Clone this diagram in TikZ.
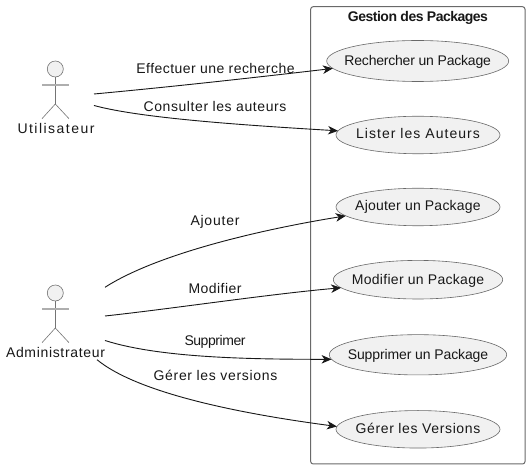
\documentclass[tikz,border=0pt]{standalone}
\usepackage{fontspec}
\setmainfont{Liberation Sans}
\usetikzlibrary{shapes.geometric,arrows.meta}
\definecolor{ink}{HTML}{181818}
\definecolor{soft}{HTML}{F1F1F1}
\newsavebox{\fitbox}
\newcommand{\fittext}[3]{%
  \sbox{\fitbox}{#3}%
  \pgfmathsetmacro{\fitls}{(#1-\wd\fitbox)/(#2)/14*100}%
  {\addfontfeature{LetterSpace=\fitls}#3}}
\newcommand{\casetext}[4]{\raisebox{-#1pt}[0pt][0pt]{\makebox[0pt]{\fittext{#2}{#3}{#4}}}}
\tikzset{
  x=1pt,y=-1pt,
  usecase/.style={draw=ink!65,line width=0.6pt,fill=soft,ellipse,inner sep=0pt,outer sep=0pt,font=\fontsize{14}{16}\selectfont,text=ink},
  label/.style={inner sep=0pt,anchor=base,font=\fontsize{14}{16}\selectfont,text=ink},
  head/.style={draw=ink!60,line width=0.6pt,fill=soft,circle,minimum size=16pt,inner sep=0pt},
  limb/.style={draw=ink!60,line width=0.6pt},
  armbar/.style={draw=ink!35,line width=1.2pt},
  link/.style={draw=ink,line width=0.9pt,-{Stealth[length=10pt,width=8.5pt,inset=3pt]}},
  frame/.style={draw=ink!65,line width=1pt,rounded corners=2.5pt}
}
\begin{document}
\begin{tikzpicture}
\useasboundingbox (0,0) rectangle (531,470);
\fill[white] (0,0) rectangle (531,470);
\draw[frame] (310.7,6.7) rectangle (525,464);
\node[label,font=\fontsize{14}{16}\selectfont\bfseries] (title) at (418,22) {\fittext{139}{19}{Gestion des Packages}};

\node[usecase,minimum width=182pt,minimum height=41pt] (rech) at (417.7,61) {\casetext{4.7}{146}{20}{Rechercher un Package}};
\node[usecase,minimum width=164pt,minimum height=37.5pt] (list) at (418,135) {\casetext{4}{126}{17}{Lister les Auteurs}};
\node[usecase,minimum width=164pt,minimum height=37.5pt] (ajou) at (418,207) {\casetext{4}{126}{17}{Ajouter un Package}};
\node[usecase,minimum width=169.4pt,minimum height=38.6pt] (modi) at (418,279.7) {\casetext{4.6}{133}{18}{Modifier un Package}};
\node[usecase,minimum width=177.4pt,minimum height=40.3pt] (supp) at (418,354.8) {\casetext{4.5}{140}{19}{Supprimer un Package}};
\node[usecase,minimum width=164pt,minimum height=37.5pt] (gere) at (418,429.3) {\casetext{4}{126}{17}{Gérer les Versions}};

% Utilisateur
\node[head] (uh) at (55.3,69) {};
\coordinate (ua) at (55.3,104);
\draw[limb] (uh.south) -- (ua);
\draw[armbar] (42,85) -- (69,85);
\draw[limb] (42,118.7) -- (ua) -- (69,118.7);
\node[label] (ul) at (56,133.7) {\fittext{77}{10}{Utilisateur}};

% Administrateur
\node[head] (ah) at (55.3,293) {};
\coordinate (ab) at (55.3,328);
\draw[limb] (ah.south) -- (ab);
\draw[armbar] (42,309) -- (69,309);
\draw[limb] (42,342.7) -- (ab) -- (69,342.7);
\node[label] (al) at (55.5,358) {\fittext{99}{13}{Administrateur}};

\coordinate (u1) at (94,94);
\coordinate (u2) at (94,105.5);
\coordinate (a1) at (105,287.3);
\coordinate (a2) at (105,316);
\coordinate (a3) at (105,340.5);
\coordinate (a4) at (97,359.7);

\draw[link] (u1) .. controls (170,87) and (260,77) .. (rech.185.2);
\draw[link] (u2) .. controls (140,118) and (240,125) .. (list.177);
\draw[link] (a1) .. controls (160,252) and (270,228) .. (ajou.187.3);
\draw[link] (a2) .. controls (170,309) and (270,294) .. (modi.186);
\draw[link] (a3) .. controls (160,358) and (250,359.3) .. (supp.183);
\draw[link] (a4) .. controls (140,395) and (250,415) .. (gere.178.2);

\node[label] (l1) at (215.5,73.3) {\fittext{159}{22}{Effectuer une recherche}};
\node[label] (l2) at (215,111.3) {\fittext{144}{20}{Consulter les auteurs}};
\node[label] (l3) at (215,225.3) {\fittext{49}{6}{Ajouter}};
\node[label] (l4) at (215,293.3) {\fittext{53}{7}{Modifier}};
\node[label] (l5) at (215,346) {\fittext{61}{8}{Supprimer}};
\node[label] (l6) at (215.5,380.7) {\fittext{125}{17}{Gérer les versions}};
\end{tikzpicture}
\end{document}
